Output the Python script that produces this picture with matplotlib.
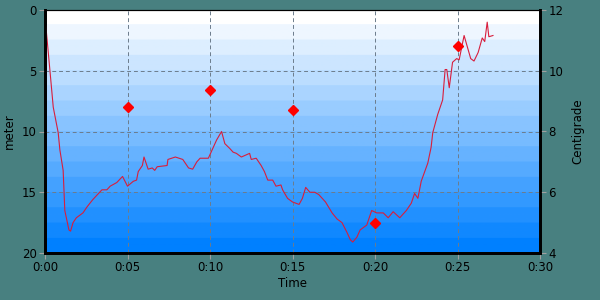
import numpy as np
import matplotlib
matplotlib.use("Agg")
from matplotlib import pyplot as plt
from matplotlib.colors import LinearSegmentedColormap

# depth profile (minutes, meters)
t_depth = [0.05, 0.3, 0.5, 0.8, 0.9, 1.1, 1.2, 1.45, 1.55, 1.7, 1.9, 2.3, 2.55, 2.9, 3.45, 3.75,
           3.95, 4.35, 4.7, 5.0, 5.35, 5.55, 5.65, 5.9, 6.0, 6.25, 6.5, 6.65, 6.8, 7.4, 7.45,
           7.9, 8.35, 8.7, 8.95, 9.2, 9.4, 9.9, 10.2, 10.4, 10.7, 10.9, 11.2, 11.4, 11.6, 11.9,
           12.4, 12.5, 12.8, 13.1, 13.3, 13.5, 13.8, 14.0, 14.3, 14.4, 14.7, 15.0, 15.4, 15.6,
           15.8, 16.05, 16.35, 16.6, 17.0, 17.4, 17.7, 18.0, 18.3, 18.5, 18.65, 18.9, 19.1,
           19.5, 19.6, 19.8, 20.1, 20.5, 20.8, 21.1, 21.5, 21.9, 22.2, 22.4, 22.6, 22.8, 23.2,
           23.4, 23.5, 23.8, 24.1, 24.25, 24.35, 24.5, 24.7, 24.95, 25.1, 25.4, 25.8, 26.0,
           26.25, 26.5, 26.65, 26.8, 26.9, 27.15]
depth = [1.3, 5.0, 8.0, 10.1, 11.5, 13.2, 16.5, 18.1, 18.2, 17.5, 17.1, 16.7, 16.2, 15.6, 14.8, 14.8,
         14.5, 14.2, 13.7, 14.5, 14.1, 14.0, 13.3, 12.8, 12.1, 13.1, 13.0, 13.2, 12.9, 12.8, 12.3,
         12.1, 12.3, 13.0, 13.1, 12.5, 12.2, 12.2, 11.3, 10.7, 10.0, 11.0, 11.4, 11.7, 11.8, 12.1,
         11.8, 12.3, 12.2, 12.8, 13.3, 14.0, 14.0, 14.5, 14.4, 14.8, 15.5, 15.8, 16.0, 15.5,
         14.6, 15.0, 15.0, 15.2, 15.8, 16.7, 17.2, 17.5, 18.3, 18.9, 19.1, 18.7, 18.1,
         17.7, 17.3, 16.5, 16.7, 16.7, 17.1, 16.6, 17.1, 16.5, 15.9, 15.1, 15.5, 14.1, 12.6,
         11.3, 10.1, 8.6, 7.4, 4.9, 4.9, 6.4, 4.3, 4.0, 4.1, 2.1, 4.0, 4.2,
         3.5, 2.3, 2.6, 1.0, 2.2, 2.1]

# temperature samples (minutes, centigrade)
t_temp = [5, 10, 15, 20, 25]
temp = [8.8, 9.35, 8.7, 5.0, 10.8]

x_ticks = [0, 5, 10, 15, 20, 25, 30]
x_labels = ["0:00", "0:05", "0:10", "0:15", "0:20", "0:25", "0:30"]

bg = "#488080"
fig = plt.figure(figsize=(6, 3), dpi=100, facecolor=bg)
ax = fig.add_axes([45/600, 47/300, 495/600, 243/300])
ax.set_facecolor("none")

# banded white -> blue gradient
cmap = LinearSegmentedColormap.from_list("bg", ["#ffffff", "#0080ff"], N=16)
grad = np.linspace(0, 1, 256).reshape(-1, 1)
ax.imshow(grad, cmap=cmap, extent=[0, 1, 0, 1], aspect="auto",
          transform=ax.transAxes, zorder=0)

ax.plot(t_depth, depth, color="#d81e3c", lw=0.8, zorder=3)
ax.set_xlim(0, 30)
ax.set_ylim(20, 0)
ax.set_xticks(x_ticks)
ax.set_xticklabels(x_labels)
ax.set_yticks([0, 5, 10, 15, 20])
ax.grid(True, color="#6c7c8c", linestyle=(0, (4, 3)), linewidth=0.7, zorder=1)
ax.set_axisbelow(False)
ax.set_ylabel("meter", fontsize=8.5, labelpad=4)
ax.set_xlabel("Time", fontsize=8.5, labelpad=2)

ax2 = ax.twinx()
ax2.plot(t_temp, temp, linestyle="none", marker="D", markersize=5.5,
         color="#ff0000", zorder=4)
ax2.set_ylim(4, 12)
ax2.set_yticks([4, 6, 8, 10, 12])
ax2.set_ylabel("Centigrade", fontsize=8.5, labelpad=6)

for a in (ax, ax2):
    a.tick_params(labelsize=8.5, length=4, width=0.8, color="#a0a0a0", pad=2)
    for side, sp in a.spines.items():
        sp.set_color("black")
        sp.set_linewidth(0.8 if side == "top" else 2.0)

plt.savefig("out.png", dpi=100, facecolor=bg)
